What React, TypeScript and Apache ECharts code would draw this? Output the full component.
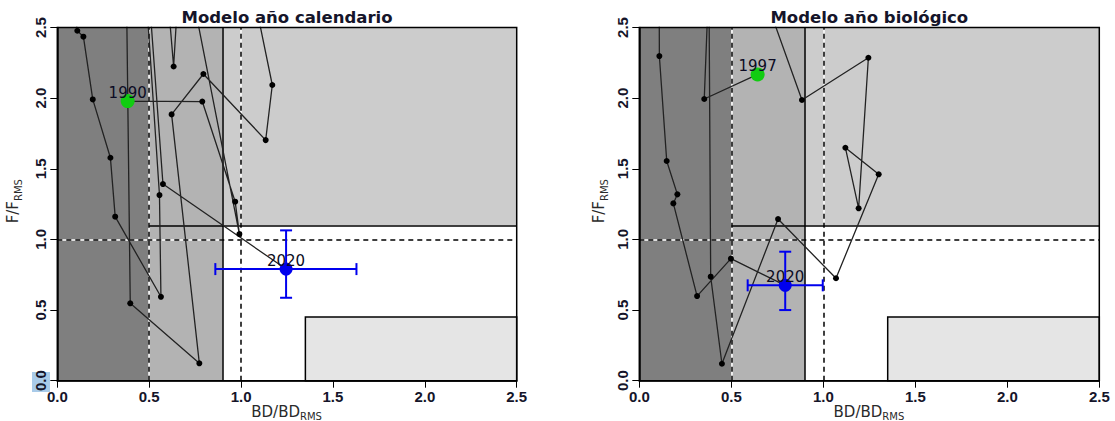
import { useEffect, useRef } from 'react';
import * as echarts from 'echarts';

// Axis range shared by both panels (BD/BDrms on x, F/Frms on y)
const axisMin = 0;
const axisMax = 2.5;
const axisStep = 0.5;

// Reference points of the diagram
const bdCollapse = 0.5; // dashed
const bdOverexploit = 0.9; // solid
const bdTarget = 1.0; // dashed
const fTarget = 1.0; // dashed
const fOverfishing = 1.1; // solid, from bdCollapse to the right
const goodBoxBD = 1.35;
const goodBoxF = 0.45;

// Calendar-year model trajectory
const calYears = [
  1990, 1991, 1992, 1993, 1994, 1995, 1996, 1997, 1998, 1999, 2000, 2001, 2002, 2003, 2004, 2005,
  2006, 2007, 2008, 2009, 2010, 2011, 2012, 2013, 2014, 2015, 2016, 2017, 2018, 2019, 2020,
];
const calBD = [
  0.383, 0.789, 0.968, 0.991, 0.71, 0.66, 0.6, 0.583, 0.633, 0.669, 1.027, 1.17, 1.134, 0.795, 0.622,
  0.773, 0.397, 0.376, 0.08, 0.109, 0.142, 0.193, 0.289, 0.315, 0.564, 0.556, 0.475, 0.48, 0.49, 0.575,
  1.245,
];
const calF = [
  1.979, 1.976, 1.267, 1.038, 2.9, 3.4, 3.2, 3.0, 2.224, 3.0, 3.0, 2.093, 1.703, 2.171, 1.885, 0.123,
  0.548, 2.8, 2.75, 2.477, 2.435, 1.991, 1.578, 1.161, 0.594, 1.314, 2.9, 3.1, 2.9, 1.392, 0.79,
];
// Last-year confidence intervals [low, high]
const calBDci = [0.86, 1.628];
const calFci = [0.587, 1.064];

// Biological-year model trajectory
const bioYears = [
  1997, 1998, 1999, 2000, 2001, 2002, 2003, 2004, 2005, 2006, 2007, 2008, 2009, 2010, 2011, 2012,
  2013, 2014, 2015, 2016, 2017, 2018, 2019, 2020,
];
const bioBD = [
  0.643, 0.353, 0.38, 0.55, 0.633, 0.884, 1.245, 1.192, 1.12, 1.301, 1.069, 0.754, 0.449, 0.388, 0.378,
  0.25, 0.108, 0.109, 0.149, 0.207, 0.185, 0.314, 0.498, 0.793,
];
const bioF = [
  2.168, 1.994, 2.9, 3.4, 2.9, 1.987, 2.286, 1.22, 1.649, 1.461, 0.725, 1.144, 0.12, 0.736, 2.9, 3.2,
  2.8, 2.298, 1.555, 1.319, 1.255, 0.599, 0.864, 0.675,
];
const bioBDci = [0.589, 0.997];
const bioFci = [0.5, 0.913];

const FONT = '"DejaVu Sans", "Liberation Sans", sans-serif';
const TICK_FONT = '"Liberation Sans", Arial, sans-serif';
const TEXT = '#15152a';
const TOP = 27.5;
const HEIGHT = 353.2;

const panels = [
  { title: 'Modelo año calendario', years: calYears, bd: calBD, f: calF, bdCI: calBDci, fCI: calFci, left: 57.3, width: 459.4, yNameGap: 44 },
  { title: 'Modelo año biológico', years: bioYears, bd: bioBD, f: bioF, bdCI: bioBDci, fCI: bioFci, left: 639.3, width: 460, yNameGap: 40 },
];

function seg(x1: number, y1: number, x2: number, y2: number) {
  return [{ coord: [x1, y1] }, { coord: [x2, y2] }];
}

function panelSeries(p: (typeof panels)[number], i: number) {
  const g = { xAxisIndex: i, yAxisIndex: i };
  const n = p.bd.length;
  const dashedRefs = [
    seg(bdCollapse, axisMin, bdCollapse, axisMax),
    seg(bdTarget, axisMin, bdTarget, axisMax),
    seg(axisMin, fTarget, axisMax, fTarget),
  ];
  return [
    // shaded status zones
    {
      ...g,
      type: 'line',
      data: [],
      silent: true,
      markArea: {
        silent: true,
        z: 1,
        label: { show: false },
        data: [
          [{ xAxis: axisMin, yAxis: axisMin, itemStyle: { color: '#7f7f7f' } }, { xAxis: bdCollapse, yAxis: axisMax }],
          [{ xAxis: bdCollapse, yAxis: axisMin, itemStyle: { color: '#b3b3b3' } }, { xAxis: bdOverexploit, yAxis: axisMax }],
          [{ xAxis: bdOverexploit, yAxis: fOverfishing, itemStyle: { color: '#cccccc' } }, { xAxis: axisMax, yAxis: axisMax }],
          [
            { xAxis: goodBoxBD, yAxis: axisMin, itemStyle: { color: '#e5e5e5', borderColor: '#000', borderWidth: 1.5 } },
            { xAxis: axisMax, yAxis: goodBoxF },
          ],
        ],
      },
    },
    // white under-stroke of the dashed reference lines
    {
      ...g,
      type: 'line',
      data: [],
      silent: true,
      markLine: {
        silent: true,
        z: 2,
        symbol: ['none', 'none'],
        label: { show: false },
        lineStyle: { color: '#ffffff', width: 1.5, type: 'solid' },
        data: dashedRefs,
      },
    },
    // black dashes
    {
      ...g,
      type: 'line',
      data: [],
      silent: true,
      markLine: {
        silent: true,
        z: 3,
        symbol: ['none', 'none'],
        label: { show: false },
        lineStyle: { color: '#000', width: 1.5, type: [5, 4] },
        data: dashedRefs,
      },
    },
    // solid limits
    {
      ...g,
      type: 'line',
      data: [],
      silent: true,
      markLine: {
        silent: true,
        z: 3,
        symbol: ['none', 'none'],
        label: { show: false },
        lineStyle: { color: '#000', width: 1.5, type: 'solid' },
        data: [
          seg(bdOverexploit, axisMin, bdOverexploit, axisMax),
          seg(bdCollapse, fOverfishing, axisMax, fOverfishing),
        ],
      },
    },
    // yearly trajectory
    {
      ...g,
      type: 'line',
      z: 4,
      clip: true,
      silent: true,
      data: p.bd.map((v, k) => [v, p.f[k]]),
      symbol: 'circle',
      symbolSize: 6,
      showSymbol: true,
      showAllSymbol: true,
      itemStyle: { color: '#000', opacity: 1 },
      lineStyle: { color: '#222', width: 1.3 },
    },
    // last-year confidence intervals
    {
      ...g,
      type: 'custom',
      z: 5,
      silent: true,
      clip: false,
      encode: { x: [0, 2, 3], y: [1, 4, 5] },
      data: [[p.bd[n - 1], p.f[n - 1], p.bdCI[0], p.bdCI[1], p.fCI[0], p.fCI[1]]],
      renderItem: (_params: any, api: any) => {
        const bd = api.value(0);
        const f = api.value(1);
        const pL = api.coord([api.value(2), f]);
        const pR = api.coord([api.value(3), f]);
        const pB = api.coord([bd, api.value(4)]);
        const pT = api.coord([bd, api.value(5)]);
        const cap = 6;
        const style = { stroke: '#0000ee', lineWidth: 2 };
        const line = (x1: number, y1: number, x2: number, y2: number) => ({
          type: 'line',
          shape: { x1, y1, x2, y2 },
          style,
        });
        return {
          type: 'group',
          children: [
            line(pL[0], pL[1], pR[0], pR[1]),
            line(pT[0], pT[1], pB[0], pB[1]),
            line(pL[0], pL[1] - cap, pL[0], pL[1] + cap),
            line(pR[0], pR[1] - cap, pR[0], pR[1] + cap),
            line(pT[0] - cap, pT[1], pT[0] + cap, pT[1]),
            line(pB[0] - cap, pB[1], pB[0] + cap, pB[1]),
          ],
        };
      },
    },
    // first and last year
    {
      ...g,
      type: 'scatter',
      z: 6,
      silent: true,
      itemStyle: { opacity: 1 },
      data: [
        { value: [p.bd[0], p.f[0]], name: String(p.years[0]), symbolSize: 14, itemStyle: { color: '#11cc11', opacity: 1 } },
        { value: [p.bd[n - 1], p.f[n - 1]], name: String(p.years[n - 1]), symbolSize: 13, itemStyle: { color: '#0000ee', opacity: 1 } },
      ],
      label: {
        show: true,
        position: 'inside',
        offset: [0, -8],
        formatter: '{b}',
        fontFamily: FONT,
        fontSize: 15,
        color: '#0c0c24',
        opacity: 1,
        textBorderWidth: 0,
        textBorderColor: 'transparent',
      },
    },
    // plot frame
    {
      ...g,
      type: 'line',
      data: [],
      silent: true,
      markArea: {
        silent: true,
        z: 7,
        label: { show: false },
        itemStyle: { color: 'rgba(0,0,0,0)', borderColor: '#000', borderWidth: 1.5 },
        data: [[{ xAxis: axisMin, yAxis: axisMin }, { xAxis: axisMax, yAxis: axisMax }]],
      },
    },
  ];
}

function axisCommon(i: number) {
  return {
    gridIndex: i,
    type: 'value',
    z: 10,
    min: axisMin,
    max: axisMax,
    interval: axisStep,
    splitLine: { show: false },
    axisLine: { show: true, lineStyle: { color: '#000', width: 1.5 } },
    axisTick: { show: true, inside: false, length: 7, lineStyle: { color: '#000', width: 1 } },
  };
}

function panelGraphics(p: (typeof panels)[number]) {
  const cx = p.left + p.width / 2;
  const yMid = 201;
  return [
    {
      type: 'text',
      x: cx,
      y: 17.5,
      z: 20,
      style: { text: p.title, font: `bold 16.5px ${FONT}`, fill: TEXT, align: 'center', verticalAlign: 'middle' },
    },
    {
      type: 'text',
      x: cx + 13,
      y: 411.5,
      z: 20,
      style: { text: 'BD/BD', font: `15px ${FONT}`, fill: '#2a2a2a', align: 'right', verticalAlign: 'middle' },
    },
    {
      type: 'text',
      x: cx + 13,
      y: 416.5,
      z: 20,
      style: { text: 'RMS', font: `10px ${FONT}`, fill: '#2a2a2a', align: 'left', verticalAlign: 'middle' },
    },
    {
      type: 'text',
      x: p.left - p.yNameGap,
      y: yMid,
      z: 20,
      rotation: Math.PI / 2,
      style: { text: 'F/F', font: `15px ${FONT}`, fill: '#2a2a2a', align: 'right', verticalAlign: 'middle' },
    },
    {
      type: 'text',
      x: p.left - p.yNameGap + 5.5,
      y: yMid,
      z: 20,
      rotation: Math.PI / 2,
      style: { text: 'RMS', font: `10px ${FONT}`, fill: '#2a2a2a', align: 'left', verticalAlign: 'middle' },
    },
  ];
}

export default function App() {
  const ref = useRef<HTMLDivElement>(null);

  useEffect(() => {
    document.body.style.margin = '0';
    if (!ref.current) return;
    const chart = echarts.init(ref.current, undefined, { renderer: 'svg' });

    const tickLabel = {
      formatter: (v: number) => v.toFixed(1),
      fontFamily: TICK_FONT,
      fontWeight: 'bold',
      fontSize: 15,
      color: TEXT,
    };

    const option = {
      animation: false,
      backgroundColor: '#ffffff',
      grid: panels.map((p) => ({ left: p.left, top: TOP, width: p.width, height: HEIGHT, containLabel: false })),
      xAxis: panels.map((_p, i) => ({
        ...axisCommon(i),
        axisLabel: { ...tickLabel, margin: 8 },
      })),
      yAxis: panels.map((_p, i) => ({
        ...axisCommon(i),
        axisLabel: { ...tickLabel, rotate: 90, margin: 9 },
      })),
      graphic: {
        elements: [
          // selection highlight behind the lowest F tick label
          {
            type: 'rect',
            z: -10,
            shape: { x: 32, y: 372, width: 18, height: 20 },
            style: { fill: '#a9cbe9' },
          },
          ...panels.flatMap((p) => panelGraphics(p)),
        ],
      },
      series: panels.flatMap((p, i) => panelSeries(p, i)),
    };

    chart.setOption(option as any);
    return () => chart.dispose();
  }, []);

  return <div ref={ref} style={{ width: 1115, height: 421 }} />;
}
